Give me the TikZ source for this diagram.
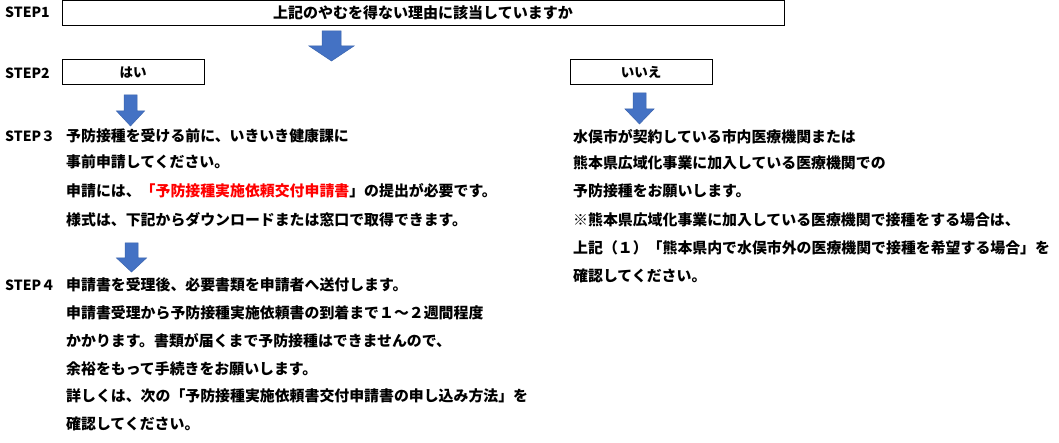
\documentclass[tikz,border=0pt]{standalone}
\usepackage{fontspec}
\setmainfont{Noto Sans CJK JP}
\definecolor{arrowblue}{HTML}{4472C4}
\definecolor{arrowedge}{HTML}{3B64AD}
\tikzset{
  txt/.style={anchor=west, inner sep=0pt, font=\bfseries\fontsize{14.9}{17}\selectfont},
  steplabel/.style={anchor=west, inner sep=0pt, font=\bfseries\fontsize{14}{16}\selectfont},
  framebox/.style={draw=black, line width=1pt, inner sep=0pt, minimum height=25pt},
  pics/blkarrow/.style n args={4}{code={
    % #1 half head width, #2 half shaft width, #3 head start, #4 length
    \fill[arrowblue, draw=arrowedge, line width=0.5pt]
      (-#2,0) -- (#2,0) -- (#2,#3) -- (#1,#3) -- (0,#4) -- (-#1,#3) -- (-#2,#3) -- cycle;
  }}
}
\begin{document}
\begin{tikzpicture}[x=1pt,y=-1pt]
\useasboundingbox (0,0) rectangle (1059,443);
\fill[white] (0,0) rectangle (1059,443);

% step labels
\node[steplabel] (s1) at (5,12) {STEP1};
\node[steplabel] (s2) at (5,73) {STEP2};
\node[steplabel] (s3) at (5,136) {STEP３};
\node[steplabel] (s4) at (5,285) {STEP４};

% boxes
\node[framebox, minimum width=722pt, font=\bfseries\fontsize{15}{17}\selectfont] (q) at (423,13) {上記のやむを得ない理由に該当していますか};
\node[framebox, minimum width=142pt, font=\bfseries\fontsize{13.5}{16}\selectfont] (yes) at (133,72.5) {はい};
\node[framebox, minimum width=142pt, font=\bfseries\fontsize{13.5}{16}\selectfont] (no) at (641,72.5) {いいえ};

% block arrows
\pic at (331.5,31) {blkarrow={22.5}{9.5}{15}{30}};
\pic at (130.5,95) {blkarrow={14}{6.5}{16}{31}};
\pic at (131.5,243) {blkarrow={15}{6.5}{15}{29}};
\pic at (639.5,93) {blkarrow={14.5}{6.5}{16}{31}};

% step 3 (left)
\node[txt] (l1) at (66,136) {予防接種を受ける前に、いきいき健康課に};
\node[txt] (l2) at (66,162) {事前申請してください。};
\node[txt] (l3) at (66,191) {申請には、{\color{red}「予防接種実施依頼交付申請書}」の提出が必要です。};
\node[txt] (l4) at (66,220) {様式は、下記からダウンロードまたは窓口で取得できます。};

% step 4 (left)
\node[txt] (m1) at (66,285) {申請書を受理後、必要書類を申請者へ送付します。};
\node[txt] (m2) at (66,313) {申請書受理から予防接種実施依頼書の到着まで１～２週間程度};
\node[txt] (m3) at (66,341) {かかります。書類が届くまで予防接種はできませんので、};
\node[txt] (m4) at (66,369) {余裕をもって手続きをお願いします。};
\node[txt] (m5) at (66,396) {詳しくは、次の「予防接種実施依頼書交付申請書の申し込み方法」を};
\node[txt] (m6) at (66,424) {確認してください。};

% right column
\node[txt] (r1) at (573,137) {水俣市が契約している市内医療機関または};
\node[txt] (r2) at (573,163) {熊本県広域化事業に加入している医療機関での};
\node[txt] (r3) at (573,191) {予防接種をお願いします。};
\node[txt] (r4) at (573,220) {※熊本県広域化事業に加入している医療機関で接種をする場合は、};
\node[txt] (r5) at (573,248) {上記（１）「熊本県内で水俣市外の医療機関で接種を希望する場合」を};
\node[txt] (r6) at (573,276) {確認してください。};
\end{tikzpicture}
\end{document}
